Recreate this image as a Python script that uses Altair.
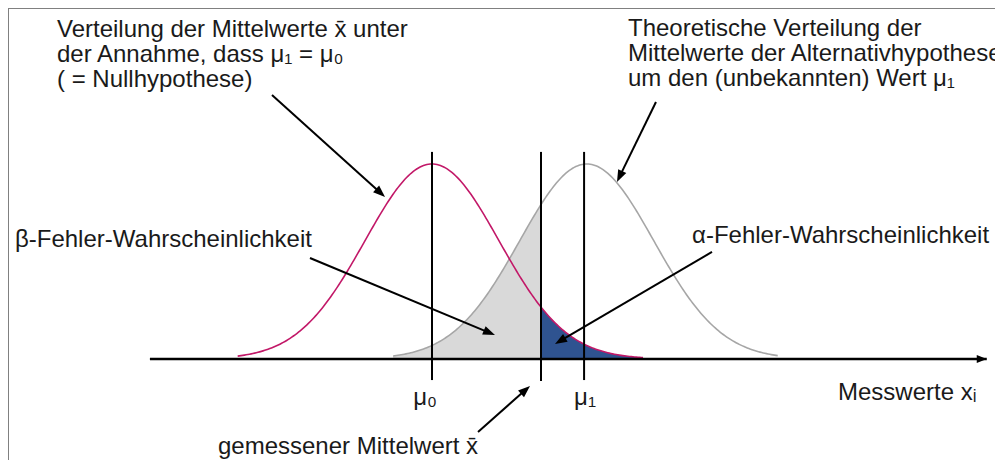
import altair as alt
import numpy as np
import pandas as pd

# ---------------- values ----------------
# x in units of the standard deviation (mu0 = 0), y as share of the peak height
mean_h0 = 0.0          # mu0
mean_h1 = 2.31         # centre of the alternative distribution
sd_h0 = 1.0
sd_h1 = 1.0
xbar = 1.627           # measured mean (critical value)
h0_range = [-2.90, 3.15]
h1_range = [-0.58, 5.16]
n_samples = 241

vline_x = [0.0, 1.627, 2.27]
vline_top = [1.062, 1.062, 1.062]
vline_bottom = [-0.108, -0.113, -0.108]

axis_start = -4.21
axis_end = 8.28

arrow_x1 = [-2.388, 3.343, -1.821, 4.179, 0.687]
arrow_y1 = [1.354, 1.318, 0.518, 0.549, -0.374]
arrow_x2 = [-0.701, 2.761, 0.940, 1.836, 1.463]
arrow_y2 = [0.831, 0.908, 0.123, 0.077, -0.138]

left_labels = [
    "Verteilung der Mittelwerte x\u0304 unter",
    "der Annahme, dass \u03bc\u2081 = \u03bc\u2080",
    "( = Nullhypothese)",
    "Theoretische Verteilung der",
    "Mittelwerte der Alternativhypothese",
    "um den (unbekannten) Wert \u03bc\u2081",
    "\u03b2-Fehler-Wahrscheinlichkeit",
    "\u03b1-Fehler-Wahrscheinlichkeit",
    "Messwerte x\u1d62",
    "gemessener Mittelwert x\u0304",
]
left_label_x = [-5.597, -5.597, -5.597, 2.925, 2.925, 2.925, -6.224, 3.881, 6.060, -3.194]
left_label_y = [1.687, 1.559, 1.431, 1.692, 1.564, 1.436, 0.610, 0.631, -0.174, -0.451]

center_labels = ["\u03bc\u2080", "\u03bc\u2081"]
center_label_x = [-0.104, 2.284]
center_label_y = [-0.200, -0.200]

# ---------------- layout ----------------
W, H = 987, 452
X_DOMAIN = [-6.328, 8.403]
Y_DOMAIN = [-0.518, 1.8]
PX_X = W / (X_DOMAIN[1] - X_DOMAIN[0])
PX_Y = H / (Y_DOMAIN[1] - Y_DOMAIN[0])

xs = alt.Scale(domain=X_DOMAIN, nice=False, zero=False)
ys = alt.Scale(domain=Y_DOMAIN, nice=False, zero=False)
FONT = "Liberation Sans"


def bell(mean, sd, lo, hi):
    x = np.linspace(lo, hi, n_samples)
    return pd.DataFrame({"x": x, "y": np.exp(-0.5 * ((x - mean) / sd) ** 2)})


h0 = bell(mean_h0, sd_h0, *h0_range)
h1 = bell(mean_h1, sd_h1, *h1_range)
h1_fill = h1[h1["x"] <= xbar]
h0_fill = h0[h0["x"] >= xbar]
# make sure both fills reach the vertical line exactly
h1_fill = pd.concat([h1_fill, bell(mean_h1, sd_h1, xbar, xbar).iloc[:1]])
h0_fill = pd.concat([bell(mean_h0, sd_h0, xbar, xbar).iloc[:1], h0_fill])
h0_fill["y0"] = 0.0
h1_fill["y0"] = 0.0


def X(f="x"):
    return alt.X(f"{f}:Q", scale=xs, axis=None)


def Y(f="y"):
    return alt.Y(f"{f}:Q", scale=ys, axis=None)


area_gray = alt.Chart(h1_fill).mark_area(color="#d9d9d9", opacity=1).encode(
    x=X(), y=Y(), y2="y0:Q")
area_blue = alt.Chart(h0_fill).mark_area(color="#2f5390", opacity=1).encode(
    x=X(), y=Y(), y2="y0:Q")
line_h1 = alt.Chart(h1).mark_line(color="#a6a6a6", strokeWidth=1.6).encode(x=X(), y=Y())
line_h0 = alt.Chart(h0).mark_line(color="#c21868", strokeWidth=1.6).encode(x=X(), y=Y())

vl = pd.DataFrame({"x": vline_x, "y": vline_top, "y2": vline_bottom})
vrules = alt.Chart(vl).mark_rule(color="black", strokeWidth=2).encode(
    x=X(), y=Y(), y2="y2:Q")

ax = pd.DataFrame({"x": [axis_start], "x2": [axis_end], "y": [0.0]})
axis_line = alt.Chart(ax).mark_rule(color="black", strokeWidth=2.5).encode(
    x=X(), x2="x2:Q", y=Y())
axis_head = alt.Chart(pd.DataFrame({"x": [axis_end], "y": [0.0], "angle": [90.0]})).mark_point(
    shape="M0,0L-0.8,2L0.8,2Z", filled=True, color="black", opacity=1, size=100, strokeWidth=0
).encode(x=X(), y=Y(), angle=alt.Angle("angle:Q", scale=None))

# arrows
ar = pd.DataFrame({"x1": arrow_x1, "y1": arrow_y1, "x2": arrow_x2, "y2": arrow_y2})
dxp = (ar["x2"] - ar["x1"]) * PX_X
dyp = -(ar["y2"] - ar["y1"]) * PX_Y
lenp = np.sqrt(dxp ** 2 + dyp ** 2)
ar["angle"] = (np.degrees(np.arctan2(dxp, -dyp)) + 360) % 360
shorten = 7.0 / lenp
ar["xe"] = ar["x2"] - (ar["x2"] - ar["x1"]) * shorten
ar["ye"] = ar["y2"] - (ar["y2"] - ar["y1"]) * shorten

arrow_lines = alt.Chart(ar).mark_rule(color="black", strokeWidth=2).encode(
    x=X("x1"), y=Y("y1"), x2="xe:Q", y2="ye:Q")
arrow_heads = alt.Chart(ar).mark_point(
    shape="M0,0L-0.75,2L0.75,2Z", filled=True, color="black", opacity=1, size=144, strokeWidth=0
).encode(x=X("x2"), y=Y("y2"), angle=alt.Angle("angle:Q", scale=None))

lt = pd.DataFrame({"x": left_label_x, "y": left_label_y, "t": left_labels})
texts_left = alt.Chart(lt).mark_text(
    align="left", baseline="middle", font=FONT, fontSize=24, color="#1a1a1a"
).encode(x=X(), y=Y(), text="t:N")

ct = pd.DataFrame({"x": center_label_x, "y": center_label_y, "t": center_labels})
texts_center = alt.Chart(ct).mark_text(
    align="center", baseline="middle", font=FONT, fontSize=24, color="#1a1a1a"
).encode(x=X(), y=Y(), text="t:N")

frame_left = alt.Chart(pd.DataFrame({"a": [0]})).mark_rule(color="#808080", strokeWidth=2).encode(
    x=alt.value(0), y=alt.value(0), y2=alt.value(H))
frame_top = alt.Chart(pd.DataFrame({"a": [0]})).mark_rule(color="#808080", strokeWidth=2).encode(
    y=alt.value(0), x=alt.value(0), x2=alt.value(W))

chart = alt.layer(
    area_gray, area_blue, line_h1, line_h0, vrules, axis_line, axis_head,
    arrow_lines, arrow_heads, texts_left, texts_center, frame_left, frame_top
).properties(
    width=W, height=H, padding=0, autosize=alt.AutoSizeParams(type="none")
).configure_view(stroke=None).configure(background="white")

chart.save("out.html", embed_options={"renderer": "svg", "actions": False})
